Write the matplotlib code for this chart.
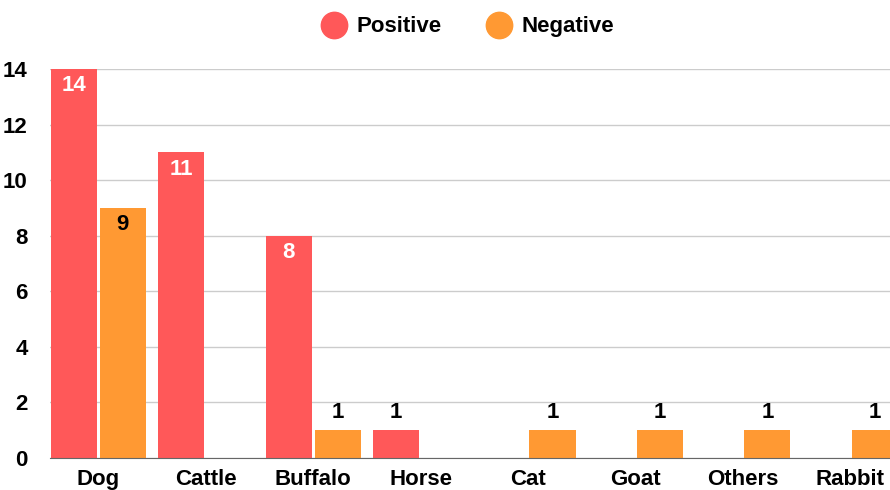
import numpy as np
import matplotlib
matplotlib.use('Agg')
from matplotlib import pyplot as plt
from matplotlib.lines import Line2D

# data
categories = ['Dog', 'Cattle', 'Buffalo', 'Horse', 'Cat', 'Goat', 'Others', 'Rabbit']
positive = [14, 11, 8, 1, 0, 0, 0, 0]
negative = [9, 0, 1, 0, 1, 1, 1, 1]
yticks = [0, 2, 4, 6, 8, 10, 12, 14]

pos_color = '#FF5859'
neg_color = '#FF9933'

plt.rcParams['font.family'] = ['Liberation Sans', 'DejaVu Sans']
plt.rcParams['font.weight'] = 'bold'

fig = plt.figure(figsize=(8.9, 4.9), dpi=100)
ax = fig.add_axes([0.0562, 0.0653, 0.9438, 0.7937])

x = np.arange(len(categories))
w = 0.43
off = 0.228
fs = 16

bars_p = ax.bar(x - off, positive, w, color=pos_color, zorder=3)
bars_n = ax.bar(x + off, negative, w, color=neg_color, zorder=3)

# value labels: inside the bar when tall enough, above otherwise
for bars, vals, inner in [(bars_p, positive, 'white'), (bars_n, negative, 'black')]:
    for b, v in zip(bars, vals):
        if v == 0:
            continue
        cx = b.get_x() + b.get_width() / 2
        if v >= 5:
            ax.annotate(str(v), (cx, v), xytext=(0, -12), textcoords='offset points',
                        ha='center', va='center', color=inner, fontsize=fs, fontweight='bold', zorder=4)
        else:
            ax.annotate(str(v), (cx, v), xytext=(0, 13), textcoords='offset points',
                        ha='center', va='center', color='black', fontsize=fs, fontweight='bold', zorder=4)

ax.set_xlim(-0.45, 7.37)
ax.set_ylim(0, 14)
ax.set_yticks(yticks)
ax.set_xticks(x)
ax.set_xticklabels(categories)
ax.tick_params(axis='both', length=0, labelsize=fs)
ax.tick_params(axis='x', pad=8)
ax.tick_params(axis='y', pad=16)
for lbl in ax.get_xticklabels() + ax.get_yticklabels():
    lbl.set_fontweight('bold')

ax.grid(axis='y', color='#cccccc', linewidth=1, zorder=0)
for s in ['top', 'right', 'left']:
    ax.spines[s].set_visible(False)
ax.spines['bottom'].set_color('#666666')
ax.spines['bottom'].set_zorder(4)

handles = [Line2D([], [], marker='o', linestyle='none', markersize=19, color=pos_color),
           Line2D([], [], marker='o', linestyle='none', markersize=19, color=neg_color)]
fig.legend(handles=handles, labels=['Positive', 'Negative'],
           loc='center', bbox_to_anchor=(0.52, 0.945), ncol=2, frameon=False,
           prop={'size': fs, 'weight': 'bold'}, handletextpad=0.0, columnspacing=1.6)

plt.savefig('out.png', dpi=100)
